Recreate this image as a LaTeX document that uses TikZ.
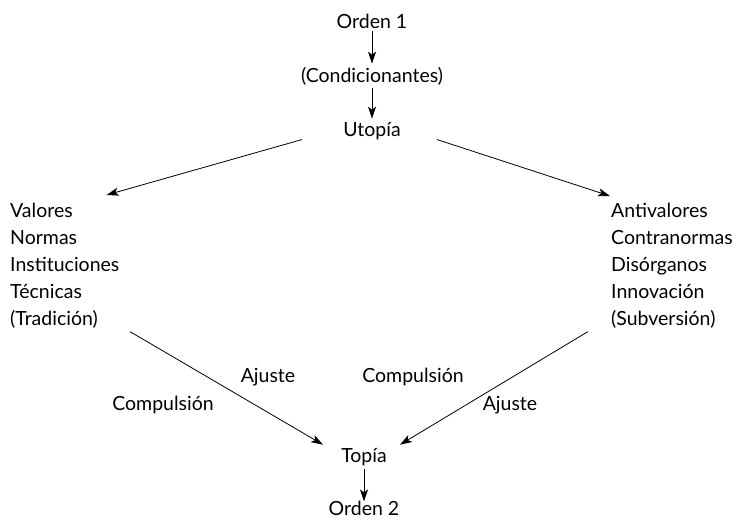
\documentclass[tikz,border=0pt]{standalone}
\usepackage{fontspec}
\setmainfont{Lato}
\usetikzlibrary{arrows.meta}

\tikzset{
  lbl/.style={font=\fontsize{19.5}{27}\selectfont, inner sep=3pt},
  lista/.style={lbl, align=left, inner sep=0pt, anchor=north west},
  flecha/.style={line width=0.8pt, -{Stealth[length=12pt,width=8pt,inset=3pt]}}
}

\begin{document}
\begin{tikzpicture}[x=1pt,y=-1pt]
\useasboundingbox (0,0) rectangle (738,520);

\node[lbl, anchor=base] (orden1) at (372,28) {Orden 1};
\node[lbl, anchor=base] (cond) at (372,82) {(Condicionantes)};
\node[lbl, anchor=base] (utopia) at (372,136) {Utopía};

\node[lista] (valores) at (10,203) {Valores\\Normas\\Instituciones\\Técnicas\\(Tradición)};
\node[lista] (antival) at (611,203) {Antivalores\\Contranormas\\Disórganos\\Innovación\\(Subversión)};

\node[lbl, anchor=base] (topia) at (364,462) {Topía};
\node[lbl, anchor=base, inner sep=1pt] (orden2) at (364,515) {Orden 2};

% etiquetas de las flechas inferiores
\node[lbl] (ajusteI) at (268,377) {Ajuste};
\node[lbl] (compI) at (163,405) {Compulsión};
\node[lbl] (compD) at (413,377) {Compulsión};
\node[lbl] (ajusteD) at (510,405) {Ajuste};

\draw[flecha] (orden1) -- (cond);
\draw[flecha] (cond) -- (utopia);
\draw[flecha] ([xshift=-70pt,yshift=3pt]utopia.south) -- ([xshift=-13pt,yshift=8pt]valores.north east);
\draw[flecha] ([xshift=65pt,yshift=3pt]utopia.south) -- ([xshift=-1pt,yshift=7pt]antival.north west);
\draw[flecha] ([xshift=120pt,yshift=-3pt]valores.south west) -- ([xshift=-41pt,yshift=0pt]topia.north);
\draw[flecha] ([xshift=-145pt,yshift=-3pt]antival.south east) -- ([xshift=36pt,yshift=0pt]topia.north);
\draw[flecha] (topia) -- ([yshift=-2pt]orden2.north);
% 
\end{tikzpicture}
\end{document}
